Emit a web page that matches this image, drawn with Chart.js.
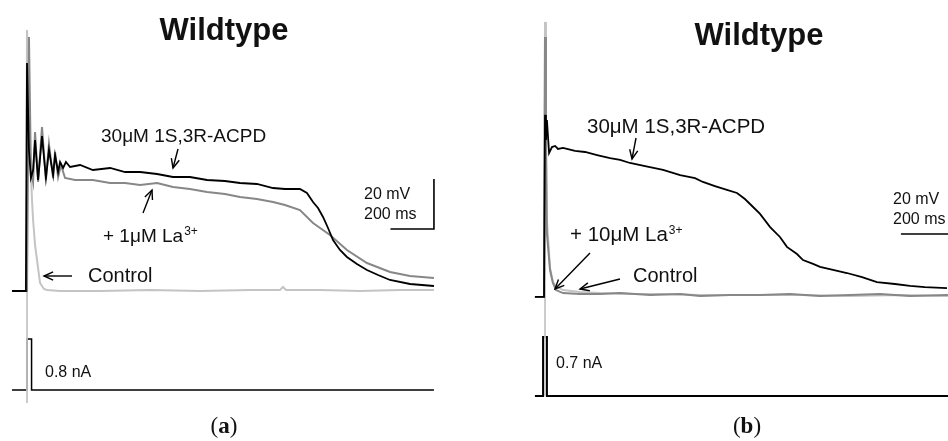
<!DOCTYPE html>
<html><head><meta charset="utf-8">
<script src="https://cdn.jsdelivr.net/npm/chart.js@4"></script>
<style>html,body{margin:0;padding:0;background:#fff;overflow:hidden}
#wrap{position:relative;width:948px;height:441px;background:#fff}
canvas{position:absolute;top:0}
</style></head><body>
<div id="wrap"><canvas id="ca" width="474" height="441" style="left:0"></canvas><canvas id="cb" width="474" height="441" style="left:474px"></canvas></div>
<script>
// ---------- Panel (a) data : time in ms, membrane potential in mV, current in nA ----------
const A_acpd_t = [-69,-5,0,9,18,28,37,51,69,87,101,120,129,143,152,166,179,198,244,303,382,451,520,598,671,749,828,910,979,1057,1131,1186,1255,1287,1315,1338,1361,1384,1407,1439,1471,1517,1563,1614,1669,1761,1871];
const A_acpd_v = [-70,-70,21.2,-13.6,-24.8,-21.6,-9.6,-25.6,-8,-24.8,-13.6,-23.6,-15.6,-22.4,-18.4,-20.8,-18.4,-20.4,-19.6,-21.6,-20.8,-22.4,-22.4,-23.2,-24.4,-24.4,-25.6,-26,-26.8,-27.2,-28.8,-29.2,-29.2,-30.8,-34.4,-36.8,-40.4,-44.8,-49.6,-53.6,-56.4,-59.2,-61.6,-63.6,-65.6,-67.2,-68];
const A_la_t = [-69,0,9,18,28,37,51,69,87,101,120,129,143,156,175,221,303,382,451,520,598,671,749,828,910,979,1057,1131,1186,1255,1315,1393,1471,1563,1669,1761,1871];
const A_la_v = [-70,-70,31.6,-21.6,-26.4,-6.4,-26.4,-4.4,-25.6,-11.2,-24.8,-14.4,-24.4,-19.6,-24.8,-25.6,-25.6,-26.8,-26.8,-27.6,-26.8,-28.4,-29.2,-30.4,-31.2,-32.4,-33.2,-34.4,-35.6,-37.6,-42.8,-47.6,-53.6,-58.8,-62.4,-64,-64.8];
const A_ctl_t = [-69,-5,0,5,14,23,28,37,46,60,78,92,152,336,566,795,1025,1163,1177,1191,1347,1531,1715,1871];
const A_ctl_v = [-70,-70,34.4,22.4,-13.6,-33.6,-41.6,-51.6,-57.6,-66.8,-69.2,-69.6,-70,-70,-69.6,-70,-69.6,-69.6,-68.4,-69.6,-69.6,-70,-69.6,-69.6];
const A_art_t = [0,0];
const A_art_v = [34.4,-114.8];
const A_cur_t = [-69,0,0,21,21,1871];
const A_cur_i = [0,0,0.8,0.8,0,0];
const A_bar = {t:1871, v:-45.2, ms:200, mV:20};

// ---------- Panel (b) data ----------
const B_acpd_t = [-42,-4,0,4,8,17,29,42,54,75,125,167,217,271,313,354,417,492,563,625,658,708,758,800,833,867,896,938,979,1008,1050,1075,1117,1146,1200,1258,1321,1383,1458,1521,1583,1675];
const B_acpd_v = [-70.7,-70.7,-4.5,-13.6,-6.4,-18.4,-16.2,-15.8,-16.9,-16.5,-17.6,-18,-19.1,-20.2,-20.9,-22,-23.1,-24.5,-26.4,-27.5,-28.9,-30.4,-31.8,-32.9,-35.1,-38,-40.5,-45.3,-48.9,-52.5,-55.1,-57.3,-58.7,-59.8,-60.9,-62,-63.5,-65.3,-66,-66.7,-67.1,-67.5];
const B_la_t = [-42,-4,0,4,8,21,33,46,75,146,229,313,438,563,646,771,896,1021,1146,1271,1396,1521,1679];
const B_la_v = [-70.7,-70.7,23.8,-17.3,-47.5,-60.9,-65.6,-68.2,-69.3,-69.6,-69.6,-69.3,-70,-69.6,-70.4,-70,-70,-69.6,-70.4,-70,-69.6,-70.4,-70];
const B_ctl_t = [-42,-4,0,4,8,21,33,50,75,146,229,354,479,646,854,1063,1271,1479,1679];
const B_ctl_v = [-70.7,-70.7,29.3,-6.4,-42.7,-60.2,-65.3,-67.1,-68.2,-68.9,-69.3,-69.6,-69.6,-70,-70,-70,-70.4,-70,-70.4];
const B_art_t = [0,0];
const B_art_v = [29.3,-106.7];
const B_cur_t = [-42,-8,-8,8,8,1679];
const B_cur_i = [0,0,0.7,0.7,0,0];
const B_bar = {t:1483, v:-47.8, ms:200};

const BLACK = '#000000', GRAY = '#878787', LIGHT = '#c4c4c4';
const pts = (ts, vs) => ts.map((t,i)=>({x:t, y:vs[i]}));
const F = '"Liberation Sans", Arial, sans-serif';

function textPlugin(id, items, arrows, bars){
  return {id, afterDraw(chart){
    const ctx = chart.ctx;
    ctx.save();
    const sx = chart.scales.x, sy = chart.scales.y;
    ctx.strokeStyle = BLACK; ctx.lineWidth = 1.6; ctx.lineCap='butt';
    bars.forEach(b=>{
      ctx.beginPath();
      if (b.mV){
        const x1 = sx.getPixelForValue(b.t - b.ms), x2 = sx.getPixelForValue(b.t);
        const y1 = sy.getPixelForValue(b.v), y2 = sy.getPixelForValue(b.v + b.mV);
        ctx.moveTo(x1,y1); ctx.lineTo(x2,y1); ctx.lineTo(x2,y2);
      } else {
        const x1 = sx.getPixelForValue(b.t), x2 = sx.getPixelForValue(b.t + b.ms);
        const y1 = sy.getPixelForValue(b.v);
        ctx.moveTo(x1,y1); ctx.lineTo(x2,y1);
      }
      ctx.stroke();
    });
    ctx.lineWidth = 1.4;
    arrows.forEach(a=>{
      const [x1,y1,x2,y2] = a;
      ctx.beginPath(); ctx.moveTo(x1,y1); ctx.lineTo(x2,y2); ctx.stroke();
      const ang = Math.atan2(y2-y1, x2-x1), L = 10, s = 0.42;
      ctx.beginPath();
      ctx.moveTo(x2 - L*Math.cos(ang - s), y2 - L*Math.sin(ang - s));
      ctx.lineTo(x2,y2);
      ctx.lineTo(x2 - L*Math.cos(ang + s), y2 - L*Math.sin(ang + s));
      ctx.stroke();
    });
    ctx.fillStyle = '#111';
    ctx.textBaseline = 'alphabetic';
    items.forEach(it=>{
      ctx.font = it.font; ctx.textAlign = it.align || 'left';
      ctx.fillText(it.text, it.x, it.y);
      if (it.sup){
        const w = ctx.measureText(it.text).width;
        const sx0 = (it.align==='center') ? it.x + w/2 : it.x + w;
        ctx.font = it.supFont; ctx.textAlign='left';
        ctx.fillText(it.sup, sx0 + 1, it.y - it.supRaise);
      }
    });
    ctx.restore();
  }};
}

function panelLabel(letter, cx, y){
  return {id:'lbl'+letter, afterDraw(chart){
    const ctx = chart.ctx; ctx.save();
    ctx.fillStyle='#111'; ctx.textBaseline='alphabetic'; ctx.textAlign='left';
    const fn = '23px "Liberation Serif", "DejaVu Serif", serif';
    const fb = 'bold 23px "Liberation Serif", "DejaVu Serif", serif';
    ctx.font = fn; const wp = ctx.measureText('(').width, wq = ctx.measureText(')').width;
    ctx.font = fb; const wl = ctx.measureText(letter).width;
    let x = cx - (wp+wl+wq)/2;
    ctx.font = fn; ctx.fillText('(', x, y); x += wp;
    ctx.font = fb; ctx.fillText(letter, x, y); x += wl;
    ctx.font = fn; ctx.fillText(')', x, y);
    ctx.restore();
  }};
}

function makeChart(id, cfg){
  const ds = [
    {data:pts(cfg.acpd[0],cfg.acpd[1]), borderColor:BLACK, borderWidth:1.8, order:0},
    {data:pts(cfg.la[0],cfg.la[1]), borderColor:GRAY, borderWidth:2, order:1},
    {data:pts(cfg.ctl[0],cfg.ctl[1]), borderColor:LIGHT, borderWidth:2, order:2},
    {data:pts(cfg.art[0],cfg.art[1]), borderColor:LIGHT, borderWidth:1, order:3},
    {data:pts(cfg.cur[0],cfg.cur[1]), borderColor:BLACK, borderWidth:cfg.curW, yAxisID:'yI', order:4}
  ].map(d=>Object.assign({pointRadius:0, tension:0, fill:false, borderJoinStyle:'miter'}, d));
  return new Chart(document.getElementById(id), {
    type:'line',
    data:{datasets:ds},
    options:{
      responsive:false, animation:false, devicePixelRatio:1,
      layout:{padding:0},
      plugins:{legend:{display:false}, tooltip:{enabled:false}, title:{display:false}},
      scales:{
        x:{type:'linear', display:false, min:cfg.xr[0], max:cfg.xr[1]},
        y:{type:'linear', display:false, min:cfg.yr[0], max:cfg.yr[1]},
        yI:{type:'linear', display:false, min:cfg.ir[0], max:cfg.ir[1]}
      }
    },
    plugins:[textPlugin('txt'+id, cfg.texts, cfg.arrows, cfg.bars), panelLabel(cfg.letter, cfg.lblX, 433)]
  });
}

const SUPF = '12px ' + F;
// panel (a): stimulus at x=27px, 0.2175 px/ms ; -70 mV at 291px, 2.5 px/mV ; 0 nA at 390px, 63.75 px/nA
makeChart('ca', {
  acpd:[A_acpd_t,A_acpd_v], la:[A_la_t,A_la_v], ctl:[A_ctl_t,A_ctl_v], art:[A_art_t,A_art_v], cur:[A_cur_t,A_cur_i], curW:1.5,
  xr:[-27/0.2175, (474-27)/0.2175], yr:[-70-(441-291)/2.5, -70+291/2.5], ir:[-(441-390)/63.75, 390/63.75],
  bars:[A_bar], letter:'a', lblX:224,
  texts:[
    {text:'Wildtype', x:224, y:40, font:'bold 31px '+F, align:'center'},
    {text:'30μM 1S,3R-ACPD', x:101, y:142, font:'19px '+F},
    {text:'+ 1μM La', x:103, y:242, font:'19px '+F, sup:'3+', supFont:SUPF, supRaise:7},
    {text:'Control', x:88, y:282, font:'20px '+F},
    {text:'20 mV', x:364, y:199, font:'16px '+F},
    {text:'200 ms', x:364, y:219, font:'16px '+F},
    {text:'0.8 nA', x:45, y:377, font:'16px '+F}
  ],
  arrows:[[178,149,173,168],[143,213,152,190],[72,276,44,276]]
});

// panel (b): stimulus at x=71px (local), 0.24 px/ms ; -70 mV at 295px, 2.75 px/mV ; 0 nA at 396px, 84.3 px/nA
makeChart('cb', {
  acpd:[B_acpd_t,B_acpd_v], la:[B_la_t,B_la_v], ctl:[B_ctl_t,B_ctl_v], art:[B_art_t,B_art_v], cur:[B_cur_t,B_cur_i], curW:2,
  xr:[-71/0.24, (474-71)/0.24], yr:[-70-(441-295)/2.75, -70+295/2.75], ir:[-(441-396)/84.3, 396/84.3],
  bars:[B_bar], letter:'b', lblX:273,
  texts:[
    {text:'Wildtype', x:285, y:45, font:'bold 31px '+F, align:'center'},
    {text:'30μM 1S,3R-ACPD', x:113, y:133, font:'20.5px '+F},
    {text:'+ 10μM La', x:96, y:241, font:'20.5px '+F, sup:'3+', supFont:SUPF, supRaise:7},
    {text:'Control', x:159, y:282, font:'20px '+F},
    {text:'20 mV', x:419, y:204, font:'16px '+F},
    {text:'200 ms', x:419, y:224, font:'16px '+F},
    {text:'0.7 nA', x:82, y:368, font:'16px '+F}
  ],
  arrows:[[162,138,158,159],[116,253,81,289],[146,279,106,289]]
});
</script>
</body></html>
